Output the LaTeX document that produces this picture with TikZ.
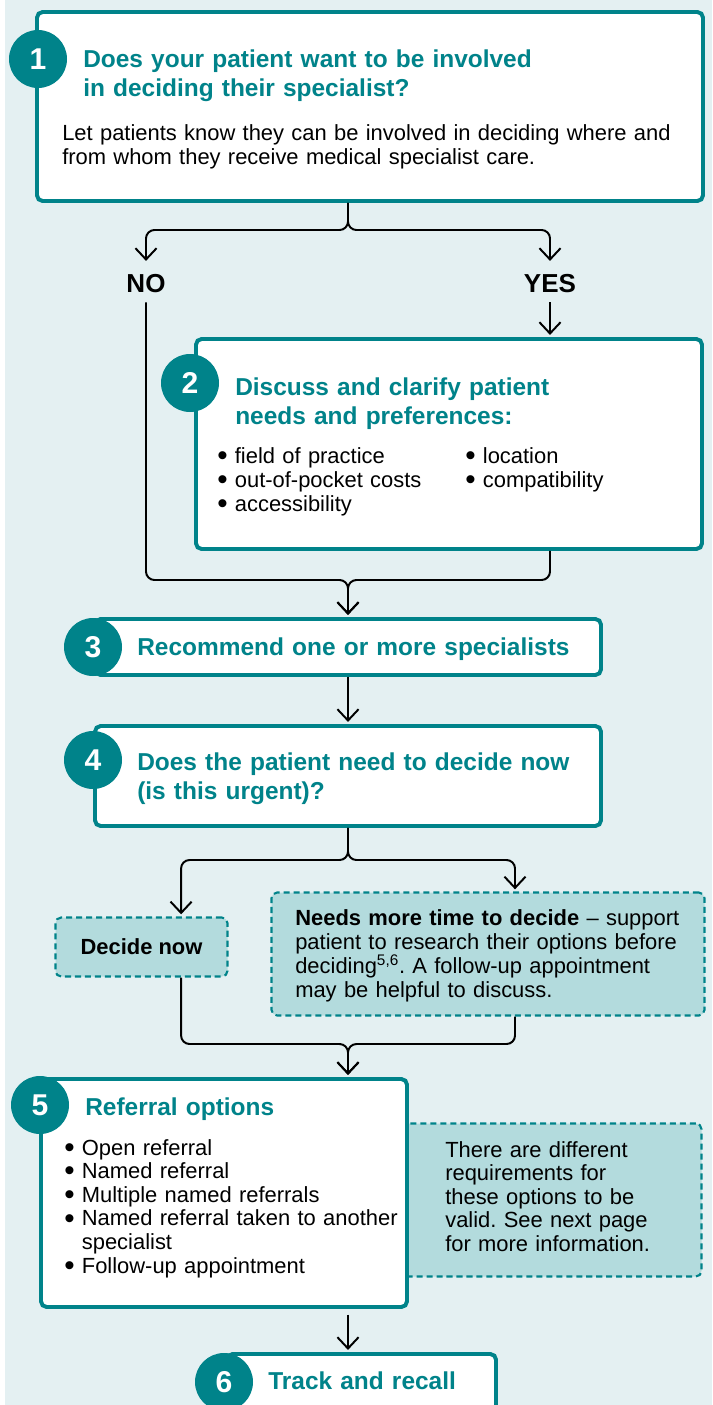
\documentclass[tikz,border=0pt]{standalone}
\usepackage{fontspec}
\setmainfont{Liberation Sans}
\usetikzlibrary{arrows.meta}

\definecolor{stepteal}{HTML}{00838A}
\definecolor{pagebg}{HTML}{E4F0F2}
\definecolor{notefill}{HTML}{B3DBDD}

\frenchspacing
\newcommand{\titlefont}{\fontsize{17.4}{21}\selectfont\bfseries}
\newcommand{\bodyfont}{\fontsize{15.6}{17.1}\selectfont}
\newcommand{\bul}{\makebox[0.44cm][l]{\raisebox{-0.2ex}{\scalebox{1.35}{\textbullet}}}}

\tikzset{
  stepbox/.style={draw=stepteal, line width=2.8pt, fill=white, rounded corners=4pt, inner sep=0pt},
  notebox/.style={draw=stepteal, line width=1.5pt, dash pattern=on 4.3pt off 2.8pt, fill=notefill, rounded corners=4pt, inner sep=0pt},
  badge/.style={circle, fill=stepteal, text=white, minimum size=1.45cm, inner sep=0pt, font=\fontsize{21.4}{21.4}\selectfont\bfseries},
  steptitle/.style={anchor=base west, inner sep=0pt, text=stepteal, font=\titlefont, text width=14cm, align=left},
  steptext/.style={anchor=base west, inner sep=0pt, font=\bodyfont, text width=16cm, align=left},
  answer/.style={anchor=base, inner sep=0pt, font=\fontsize{18.5}{18.5}\selectfont\bfseries},
  link/.style={line width=1.4pt, rounded corners=6pt},
  flow/.style={link, shorten >=1.5pt, -{Straight Barb[length=8pt, width=15pt]}},
}

\begin{document}
\begin{tikzpicture}
  \fill[white] (0,0) rectangle (17.8,-35.125);
  \fill[pagebg] (0.12,0) rectangle (17.8,-35.125);
  \useasboundingbox (0,0) rectangle (17.8,-35.125);

  \node[stepbox, minimum width=16.65cm, minimum height=4.725cm] (box1) at (9.25,-2.6625) {};
  \node[badge] (num1) at (0.95,-1.475) {1};
  \node[steptitle] (title1) at (2.075,-1.675) {Does your patient want to be involved\\in deciding their specialist?};
  \node[steptext] (text1) at (1.55,-3.5) {Let patients know they can be involved in deciding where and\\from whom they receive medical specialist care.};

  \node[answer] (no) at (3.65,-7.3) {NO};
  \node[answer] (yes) at (13.75,-7.3) {YES};

  \node[stepbox, minimum width=12.65cm, minimum height=5.25cm] (box2) at (11.225,-11.1) {};
  \node[badge] (num2) at (4.75,-9.575) {2};
  \node[steptitle] (title2) at (5.875,-9.875) {Discuss and clarify patient\\needs and preferences:};
  \node[steptext, text width=6cm] (needs2a) at (5.425,-11.575) {\bul field of practice\\\bul out-of-pocket costs\\\bul accessibility};
  \node[steptext, text width=5cm] (needs2b) at (11.625,-11.575) {\bul location\\\bul compatibility};

  \node[stepbox, minimum width=12.65cm, minimum height=1.4cm] (box3) at (8.7,-16.175) {};
  \node[badge] (num3) at (2.325,-16.175) {3};
  \node[steptitle] (title3) at (3.425,-16.375) {Recommend one or more specialists};

  \node[stepbox, minimum width=12.65cm, minimum height=2.5cm] (box4) at (8.7,-19.4) {};
  \node[badge] (num4) at (2.325,-19.0) {4};
  \node[steptitle] (title4) at (3.425,-19.25) {Does the patient need to decide now\\(is this urgent)?};

  \node[notebox, minimum width=4.3cm, minimum height=1.475cm, font=\bodyfont\bfseries] (decide) at (3.5375,-23.675) {Decide now};
  \node[notebox, minimum width=10.825cm, minimum height=3.075cm] (needs) at (12.2,-23.85) {};
  \node[steptext] (needstext) at (7.375,-23.125) {\textbf{Needs more time to decide} – support\\patient to research their options before\\deciding\textsuperscript{5,6}. A follow-up appointment\\may be helpful to discuss.};

  \node[notebox, minimum width=7.525cm, minimum height=3.825cm] (note5) at (13.775,-30.0) {};
  \node[steptext, font=\fontsize{15.6}{16.8}\selectfont] (notetext) at (11.125,-28.925) {There are different\\requirements for\\these options to be\\valid. See next page\\for more information.};

  \node[stepbox, minimum width=9.15cm, minimum height=5.7cm] (box5) at (5.6,-29.825) {};
  \node[badge] (num5) at (1.0,-27.625) {5};
  \node[steptitle] (title5) at (2.125,-27.875) {Referral options};
  \node[steptext, font=\fontsize{15.6}{16.8}\selectfont] (options5) at (1.6,-28.875) {\bul Open referral\\\bul Named referral\\\bul Multiple named referrals\\\bul Named referral taken to another\\\hspace*{0.44cm}specialist\\\bul Follow-up appointment};

  \node[stepbox, minimum width=6.725cm, minimum height=2.1cm] (box6) at (9.0375,-34.9) {};
  \node[badge] (num6) at (5.6,-34.55) {6};
  \node[steptitle] (title6) at (6.7,-34.725) {Track and recall};

  \coordinate (split1) at (8.7,-5.75);
  \coordinate (merge2) at (8.7,-14.5);
  \coordinate (split4) at (8.7,-21.5);
  \coordinate (merge5) at (8.7,-26.1);
  \coordinate (decidein) at ([xshift=0.99cm]decide.north);
  \coordinate (decideout) at ([xshift=0.99cm]decide.south);
  \coordinate (needsin) at ([xshift=0.675cm]needs.north);
  \coordinate (needsout) at ([xshift=0.675cm]needs.south);

  \draw[flow, shorten >=9pt] (box1.south -| split1) -- (split1) -| (no.north);
  \draw[flow, shorten >=9pt] (box1.south -| split1) -- (split1) -| (yes.north);
  \draw[flow, shorten <=7pt] (yes.south) -- (yes.south |- box2.north);
  \draw[flow, shorten <=7pt] (no.south) |- (merge2) -- (box3.north);
  \draw[flow] (box2.south -| yes) |- (merge2) -- (box3.north);
  \draw[flow] (box3.south) -- (box4.north);
  \draw[flow] (box4.south) -- (split4) -| (decidein);
  \draw[flow] (box4.south) -- (split4) -| (needsin);
  \draw[flow] (decideout) |- (merge5) -- (merge5 |- box5.north);
  \draw[flow] (needsout) |- (merge5) -- (merge5 |- box5.north);
  \draw[flow, shorten <=4pt] (box5.south -| merge5) -- (box6.north -| merge5);
\end{tikzpicture}
\end{document}
